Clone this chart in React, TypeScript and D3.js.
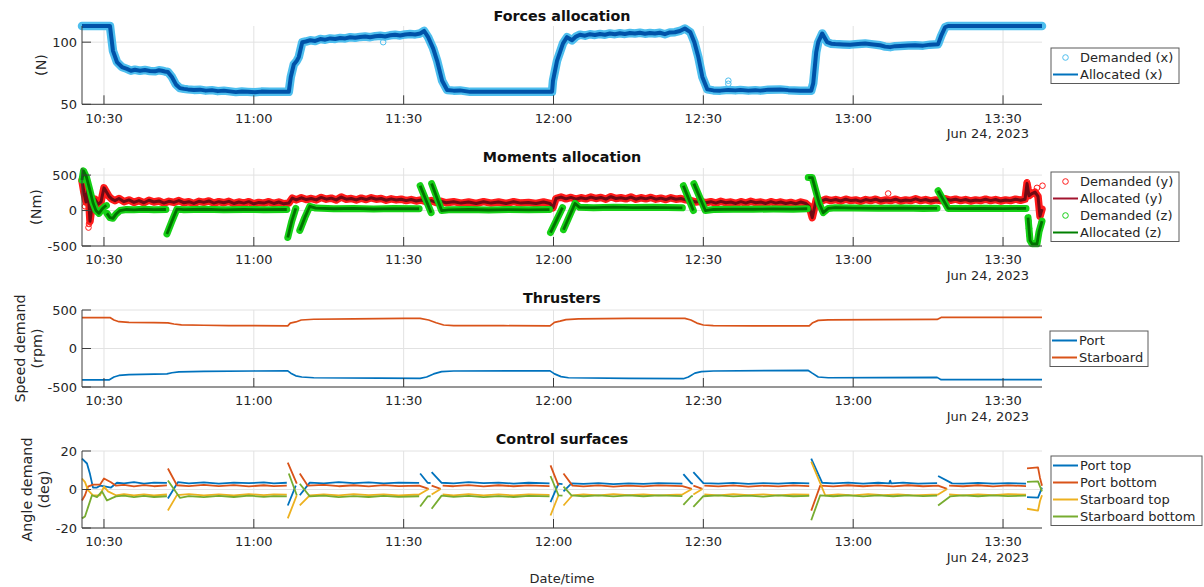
import React from "react";
import * as d3 from "d3";

type Pt = [number, number] | null;

// ---------- axis / label data ----------
const xTickMinutes = [30, 60, 90, 120, 150, 180, 210]; // minutes after 10:00
const xStartMin = 25.6;
const xEndMin = 217.8;
const dateText = "Jun 24, 2023";
const xLabelText = "Date/time";

const forceTicks = [50, 100];
const momentTicks = [-500, 0, 500];
const thrusterTicks = [-500, 0, 500];
const surfaceTicks = [-20, 0, 20];

// ---------- Forces allocation (N) ----------
const forceX: Pt[] = [
  [25.6, 113], [31.2, 113], [31.8, 93], [32.6, 84], [33.6, 80], [34.6, 78.5], [35.4, 77], [36.2, 77.8], [37.2, 77], [38.2, 77.6],
  [39.2, 76.8], [40.2, 76.5], [41.0, 77.4], [41.6, 77], [42.2, 76.4], [42.8, 76], [43.6, 72], [44.4, 66], [45.2, 63], [46.0, 62.4],
  [46.8, 62], [48, 61.6], [49.2, 61.8], [50.4, 61], [51.6, 61.4], [52.8, 60.6], [54, 61], [55.2, 60.4], [56.4, 59.8], [57.6, 60.3],
  [58.8, 60], [60.2, 59.7], [61.5, 60.2], [63.2, 60], [67.0, 60], [67.4, 72], [68.0, 82], [68.6, 85], [69.0, 88], [69.7, 100],
  [70.4, 100.5], [71.3, 101.5], [72.3, 101], [73.3, 102.5], [74.3, 102], [75.3, 103], [76.3, 102.6], [77.3, 103.4], [78.3, 103],
  [79.3, 104], [80.3, 103.5], [81.3, 104.2], [82.3, 104.6], [83.3, 104], [84.3, 104.8], [85.3, 105.2], [86.3, 104.6], [87.3, 105.5],
  [88.3, 106], [89.3, 105.4], [90.3, 106.2], [91.3, 106.6], [92.3, 106.2], [93.3, 107], [94.1, 109], [94.9, 104], [95.9, 95],
  [96.7, 85], [97.7, 69], [98.7, 61.5], [100, 61], [101.3, 61.2], [103.3, 60], [119.7, 60], [119.9, 69], [120.7, 85], [121.3, 92],
  [121.9, 99], [122.7, 104], [123.7, 101.5], [124.5, 104.5], [125.3, 106], [126.3, 105.2], [127.3, 106.4], [128.3, 105.8],
  [129.3, 106.6], [130.3, 106], [131.3, 107], [132.3, 106.4], [133.3, 107.2], [134.3, 106.6], [135.3, 107.4], [136.3, 107],
  [137.3, 107.6], [138.3, 106.8], [139.3, 107.4], [140.3, 107], [141.3, 107.6], [142.3, 106.4], [143.3, 107.8], [144.3, 108],
  [145.3, 109], [146.3, 111], [147.4, 108], [148.2, 100], [149.0, 88], [149.8, 72], [150.8, 62], [152, 61.2], [153.4, 61],
  [155, 61.6], [156.4, 61.2], [157.4, 61.6], [159, 61], [160.4, 61.4], [161.4, 61], [163, 61.8], [165.4, 62], [167, 61.4],
  [169.4, 61], [171.6, 61], [172.0, 67], [172.6, 92], [173.0, 100], [173.8, 107], [174.8, 100], [175.6, 98.8], [176.4, 98.5],
  [178, 98.2], [179.4, 98], [181, 98.6], [182.4, 99], [184, 98.2], [185.4, 97.5], [186.4, 96.4], [187.4, 96], [188.4, 96.8],
  [189.4, 97], [191, 97.4], [192.4, 97.6], [194, 97.2], [195.4, 98], [197, 98.4], [197.6, 105], [198.4, 112], [199, 113], [217.8, 113],
];
const forceDemandedOutliers: Pt[] = [[155, 69], [155, 66.5], [85.9, 100]];

// ---------- Moments allocation (Nm) ----------
const momentY: Pt[] = [
  [25.6, 420], [26.0, 250], [26.4, 120], [26.8, 330], [27.2, -150], [27.6, 60], [28.2, 160], [28.8, 90], [29.4, 120], [30.0, 320],
  [30.5, 260], [31.0, 200], [31.6, 160], [32.2, 140], [33, 170], [34, 125], [35, 150], [36, 115], [37, 140], [38, 110], [39, 145],
  [40, 120], [41, 135], [42, 105], [43, 130], [44, 115], [45, 140], [46, 110], [47, 125], [48, 100], [49, 130], [50, 115], [51, 135],
  [52, 105], [53, 125], [54, 110], [55, 130], [56, 100], [57, 120], [58, 105], [59, 125], [60, 95], [61, 115], [62, 105], [63, 125],
  [64, 100], [65, 120], [66, 95], [67, 105], [67.7, 175], [68.5, 150], [69.5, 180], [70.5, 155], [71.5, 170], [72.5, 150],
  [73.5, 185], [74.5, 160], [75.5, 175], [76.5, 150], [77.5, 190], [78.5, 160], [79.5, 170], [80.5, 150], [81.5, 175], [82.5, 155],
  [83.5, 180], [84.5, 160], [85.5, 170], [86.5, 145], [87.5, 165], [88.5, 150], [89.5, 160], [90.5, 140], [91.5, 155], [92.5, 135],
  [93.5, 150], [94.5, 125], [95.5, 140], [96.5, 115], [97.5, 130], [98.5, 110], [100, 125], [101.5, 105], [103, 120], [104.5, 100],
  [106, 125], [107.5, 105], [109, 120], [110.5, 100], [112, 125], [113.5, 105], [115, 115], [116.5, 100], [118, 120], [119.3, 100],
  [119.9, 40], [120.5, 170], [121.5, 190], [122.5, 165], [123.5, 185], [124.5, 160], [125.5, 180], [126.5, 165], [127.5, 190],
  [128.5, 170], [129.5, 185], [130.5, 160], [131.5, 195], [132.5, 170], [133.5, 180], [134.5, 165], [135.5, 190], [136.5, 160],
  [137.5, 180], [138.5, 165], [139.5, 185], [140.5, 160], [141.5, 175], [142.5, 155], [143.5, 180], [144.5, 160], [145.5, 170],
  [146.5, 150], [147.5, 140], [148.5, 120], [149.5, 130], [150.5, 110], [151.5, 125], [152.5, 105], [153.5, 130], [154.5, 110],
  [155.5, 120], [156.5, 100], [157.5, 125], [158.5, 105], [159.5, 130], [160.5, 110], [161.5, 120], [162.5, 100], [163.5, 125],
  [164.5, 105], [165.5, 120], [166.5, 100], [167.5, 115], [168.5, 95], [169.5, 120], [170.5, 100], [171.2, 60], [171.8, -100],
  [172.6, 150], [173.5, 130], [174.5, 160], [175.5, 140], [176.5, 155], [177.5, 135], [178.5, 160], [179.5, 140], [180.5, 150],
  [181.5, 130], [182.5, 155], [183.5, 140], [184.5, 160], [185.5, 135], [186.5, 150], [187.5, 140], [188.5, 160], [189.5, 135],
  [190.5, 150], [191.5, 140], [192.5, 165], [193.5, 140], [194.5, 155], [195.5, 135], [196.5, 150], [197.5, 140], [198.5, 165],
  [199.5, 145], [200.5, 160], [201.5, 140], [202.5, 155], [203.5, 135], [204.5, 150], [205.5, 140], [206.5, 160], [207.5, 140],
  [208.5, 155], [209.5, 135], [210.5, 150], [211.5, 140], [212.5, 160], [213.5, 145], [214.4, 160], [214.8, 380], [215.2, 210],
  [215.8, 240], [216.4, 260], [217.0, 200], [217.4, -80], [217.8, 20],
];
const momentYDemandedOutliers: Pt[] = [
  [26.2, 60], [26.9, -240], [27.0, -190], [187.0, 240], [214.8, 400], [215.0, 330], [216.8, 320], [217.9, 350], [217.7, -170],
];
const momentZ: Pt[] = [
  [25.6, 430], [25.9, 560], [26.5, 470], [27.2, 280], [27.8, 110], [28.4, 0], [29.0, -40], [29.6, 20], [30.2, 60], [30.5, 70], null,
  [30.6, -40], [31.2, -100], [31.8, -110], [32.4, -50], [33.2, 0], [34.5, 15], [36, 10], [38, 18], [40, 12], [42.4, 15], null,
  [42.6, -330], [43.6, -150], [44.6, 20], [46, 12], [50, 18], [54, 10], [58, 15], [62, 12], [66.6, 15], null,
  [66.8, -380], [67.6, -150], [68.4, 30], null,
  [69.2, -280], [70.2, -100], [71.2, 60], [72.4, 35], [76, 25], [80, 30], [84, 22], [88, 28], [93.1, 25], null,
  [93.3, 350], [95.5, -30], null,
  [95.6, 380], [97.6, 0], [99, 10], [103, 15], [107, 8], [111, 14], [115, 10], [119.2, 14], null,
  [119.4, -310], [121.8, 40], null,
  [122.0, -270], [124.3, 100], [125.2, 45], [128, 40], [132, 48], [136, 42], [140, 45], [145.8, 38], null,
  [146.0, 350], [148.0, 0], null,
  [148.1, 380], [150.4, 0], [152, 15], [156, 20], [160, 18], [164, 22], [168, 20], [170.8, 25], null,
  [171.0, 465], [171.8, 465], [173.2, 100], [174.0, -30], [175.0, 30], [176.4, 40], [180, 35], [185, 32], [190, 35], [194, 30], [196.8, 32], null,
  [197.0, 280], [199.0, 30], [202, 28], [206, 32], [210, 28], [214.6, 30], null,
  [215.0, -100], [215.4, -420], [215.8, -470], [216.8, -470], [217.2, -300], [217.8, -150],
];
const momentZDemandedOutliers: Pt[] = [[215.1, -150], [215.2, -250], [215.3, -350]];

// ---------- Thrusters (rpm) ----------
const thrusterStarboard: Pt[] = [
  [25.6, 402], [31.2, 402], [32.0, 370], [33.0, 348], [35, 340], [40, 335], [42.8, 332], [44, 318], [45.5, 308], [50, 302],
  [55, 298], [60, 296], [66.8, 294], [67.3, 330], [68.4, 345], [69.5, 370], [72, 380], [80, 385], [90, 390], [93.3, 392],
  [95, 370], [96.5, 335], [98, 305], [100, 298], [110, 296], [119.3, 294], [120.2, 340], [121.3, 355], [122.5, 375], [125, 385],
  [135, 390], [145, 392], [146.3, 392], [147.5, 370], [148.7, 330], [150, 305], [152, 298], [160, 295], [171.2, 294],
  [171.8, 330], [173, 365], [175, 372], [185, 375], [196.8, 377], [197.6, 403], [217.8, 405],
];
const thrusterPort: Pt[] = [
  [25.6, -408], [31.0, -408], [32.0, -370], [33.0, -350], [35, -340], [42.6, -330], [43.6, -315], [45, -303], [50, -298],
  [60, -292], [66.8, -290], [67.4, -320], [68.4, -355], [69.6, -370], [72, -380], [85, -385], [93.3, -388], [94.6, -370],
  [96, -330], [97.6, -300], [100, -292], [119.3, -290], [120.2, -330], [121.5, -365], [123, -380], [135, -388], [146, -392],
  [147, -370], [148.3, -320], [149.6, -300], [152, -292], [171, -285], [171.8, -320], [173, -370], [175, -380], [185, -378],
  [196.8, -375], [197.6, -405], [217.8, -405],
];

// ---------- Control surfaces (deg) ----------
const portTop: Pt[] = [
  [25.6, 16], [26.6, 13.5], [27.2, 8], [27.8, 1], [28.6, 1], [29.2, 2], [30.4, 1.5], [31.4, 1], [32.6, 3.5], [34, 3.2], [36, 3.8], [38, 3.1], [40, 3.6], [42.6, 3.4], null,
  [42.8, -4.7], [44.8, 3.8], [47, 3.2], [50, 3.7], [53, 3.1], [56, 3.6], [59, 3.3], [62, 3.7], [64, 3.2], [66.6, 3.5], null,
  [66.8, -8.3], [68.4, 2], null,
  [69.2, -3], [71.2, 3.6], [74, 3.2], [77, 3.8], [80, 3.3], [83, 3.7], [86, 3.2], [89, 3.6], [93.1, 3.4], null,
  [93.3, 8.3], [94.8, 3.5], [95.4, 3.3], null,
  [95.6, 9], [97.6, 3.5], [100, 3.2], [103, 3.8], [106, 3.3], [109, 3.6], [112, 3.1], [115, 3.5], [119.2, 3.2], null,
  [119.4, -6.6], [121.0, 3], [121.8, 2.8], null,
  [122.0, -1], [123.6, 3.2], [126, 2.9], [129, 3.3], [132, 2.8], [135, 3.2], [138, 2.9], [141, 3.3], [145.8, 3], null,
  [146.0, 8], [147.6, 3.2], [147.9, 3], null,
  [148.0, 9], [150.0, 3.3], [153, 3], [156, 3.4], [159, 2.9], [162, 3.3], [165, 3], [168, 3.4], [171.2, 3.2], null,
  [171.6, 16], [173.8, 3.5], [176, 3.2], [179, 3.6], [182, 3.1], [185, 3.5], [187.2, 3.2], [187.4, 4.6], [187.6, 3.2], [190, 3.6], [193, 3.1], [196.8, 3.3], null,
  [197.0, 7], [199.8, 3.2], [202, 3], [205, 3.4], [208, 3], [211, 3.3], [214.6, 3.1], null,
  [214.8, -4], [217.0, -4.2], [217.8, 1],
];
const portBottom: Pt[] = [
  [25.6, -5.7], [26.2, -3], [26.8, 1.5], [27.8, 2.5], [29.2, 2.5], [30.0, 5.7], [31.4, 3.8], [32.4, 2], [34, 2.4], [36, 1.6], [38, 2.3], [40, 1.7], [42.6, 2.1], null,
  [42.8, 10.9], [44.6, 2.2], [47, 1.7], [50, 2.4], [53, 1.8], [56, 2.3], [59, 1.6], [62, 2.2], [64, 1.8], [66.6, 2], null,
  [66.8, 14], [68.6, 3], null,
  [69.2, 8.3], [70.8, 2], [74, 2.4], [77, 1.7], [80, 2.2], [83, 1.6], [86, 2.3], [89, 1.8], [93.1, 2], [95.0, 0.3], null,
  [95.6, 2], [97.4, 0.3], null,
  [97.8, 2], [100, 1.7], [103, 2.3], [106, 1.6], [109, 2.2], [112, 1.7], [115, 2.1], [119.2, 1.8], null,
  [119.4, 12.5], [121.0, 2], null,
  [122.0, 8.3], [123.8, 2], [126, 1.6], [129, 2.1], [132, 1.5], [135, 2], [138, 1.6], [141, 2.1], [145.8, 1.8], [147.7, 0.3], null,
  [148.0, 2], [149.8, 0.3], null,
  [150.2, 2], [153, 1.6], [156, 2.1], [159, 1.5], [162, 2], [165, 1.6], [168, 2.1], [171.2, 1.8], null,
  [171.6, -11], [173.4, 2], [176, 1.6], [179, 2.2], [182, 1.7], [185, 2.1], [188, 1.6], [191, 2.2], [194, 1.7], [197, 2], [198.8, 0.3], null,
  [199.2, 2], [202, 1.7], [205, 2.2], [208, 1.6], [211, 2.1], [214.6, 1.8], null,
  [214.8, 11], [217.0, 11.5], [217.4, 6], [217.8, 2],
];
const starboardTop: Pt[] = [
  [25.6, 5.7], [26.2, 3.8], [26.8, -0.3], [27.8, -3], [29.2, -3], [30.0, 1.5], [30.8, -1], [32.4, -3], [34, -2.4], [36, -3.1], [38, -2.5], [40, -3], [42.6, -2.6], null,
  [42.8, -10.9], [44.6, -2.9], [47, -2.4], [50, -3], [53, -2.5], [56, -3.1], [59, -2.4], [62, -2.9], [64, -2.5], [66.6, -2.7], null,
  [66.8, -15], [68.6, -3], null,
  [69.2, -8.3], [71.2, -3], [74, -2.5], [77, -3.1], [80, -2.4], [83, -2.9], [86, -2.5], [89, -3], [93.1, -2.6], [95.0, 0.3], null,
  [95.6, -2.6], [97.4, 0.3], null,
  [97.8, -2.6], [100, -3], [103, -2.4], [106, -3], [109, -2.5], [112, -3.1], [115, -2.5], [119.2, -2.8], null,
  [119.4, -13.5], [121.0, -3], null,
  [122.0, -8.3], [123.8, -3], [126, -2.5], [129, -3], [132, -2.4], [135, -2.9], [138, -2.5], [141, -3], [145.8, -2.6], [147.7, 0.3], null,
  [148.0, -2.6], [149.8, 0.3], null,
  [150.2, -2.6], [153, -3], [156, -2.4], [159, -2.9], [162, -2.5], [165, -3], [168, -2.5], [171.2, -2.7], null,
  [171.6, 14.5], [174.4, -3], [177, -2.5], [180, -3], [183, -2.4], [186, -2.9], [189, -2.5], [192, -3], [197, -2.6], [198.8, 0.3], null,
  [199.2, -2.6], [202, -3], [205, -2.5], [208, -2.9], [211, -2.4], [214.6, -2.7], null,
  [214.8, -10], [217.0, -11], [217.4, -6], [217.8, -3],
];
const starboardBottom: Pt[] = [
  [25.6, -15], [26.2, -14], [26.8, -9.3], [27.6, -3], [28.6, -4], [29.6, -1], [30.6, -5.7], [31.6, -4.5], [32.4, -3.6], [34, -3.2], [36, -4], [38, -3.3], [40, -3.9], [42.6, -3.5], null,
  [42.8, 4.7], [45.2, -4.3], [47, -3.4], [50, -4], [53, -3.3], [56, -3.9], [59, -3.2], [62, -3.8], [64, -3.4], [66.6, -3.6], null,
  [67.0, 8.3], [68.6, -3], null,
  [69.2, 3], [71.2, -3.6], [74, -3.2], [77, -4], [80, -3.4], [83, -3.9], [86, -3.3], [89, -3.8], [93.1, -3.5], null,
  [93.3, -8.8], [94.8, -3.6], [95.4, -3.5], null,
  [95.6, -10], [97.6, -3.2], [100, -3.8], [103, -3.3], [106, -4], [109, -3.4], [112, -3.9], [115, -3.3], [119.2, -3.6], null,
  [119.4, 7], [121.0, -3], [121.8, -3.2], null,
  [122.0, 1.5], [123.6, -3], [126, -3.5], [129, -3], [132, -3.6], [135, -3.1], [138, -3.5], [141, -3], [145.8, -3.4], null,
  [146.0, -8], [147.6, -3.5], [147.9, -3.4], null,
  [148.0, -9], [150.0, -3.5], [153, -3.1], [156, -3.6], [159, -3.2], [162, -3.7], [165, -3.1], [168, -3.5], [171.2, -3.3], null,
  [171.6, -16], [173.4, -3], [176, -3.5], [179, -3], [182, -3.6], [185, -3.1], [188, -3.5], [191, -3], [194, -3.4], [196.8, -3.2], null,
  [197.0, -8.3], [199.4, -3.6], [202, -3.1], [205, -3.5], [208, -3], [211, -3.4], [214.6, -3.2], null,
  [214.8, 4], [217.0, 4.2], [217.8, -1],
];

// ---------- layout ----------
const FONT = "DejaVu Sans, Verdana, sans-serif";
const PL = 82;
const PR = 1042;
const CX = (PL + PR) / 2;
const TXT = "#262626";
const GRID = "#e2e2e2";

const base = new Date(2023, 5, 24, 10, 0, 0).getTime();
const toDate = (m: number) => new Date(base + m * 60000);
const x = d3.scaleTime().domain([toDate(xStartMin), toDate(xEndMin)]).range([PL, PR]);
const fmt = d3.timeFormat("%H:%M");

function pathOf(data: Pt[], y: d3.ScaleLinear<number, number>) {
  return (
    d3
      .line<Pt>()
      .defined((d) => d !== null)
      .x((d) => x(toDate((d as [number, number])[0])))
      .y((d) => y((d as [number, number])[1]))(data) || ""
  );
}

type LegendItem = { kind: "marker" | "line"; color: string; label: string };

function Legend({ x0, y0, w, items }: { x0: number; y0: number; w: number; items: LegendItem[] }) {
  const rowH = 17;
  const h = items.length * rowH + 1.5;
  return (
    <g>
      <rect x={x0} y={y0} width={w} height={h} fill="white" stroke="#5a5a5a" strokeWidth={1} />
      {items.map((it, i) => {
        const cy = y0 + 9.5 + i * rowH;
        return (
          <g key={i}>
            {it.kind === "line" ? (
              <line x1={x0 + 2} x2={x0 + 27} y1={cy} y2={cy} stroke={it.color} strokeWidth={2} />
            ) : (
              <circle cx={x0 + 14.5} cy={cy} r={2.8} fill="none" stroke={it.color} strokeWidth={1} />
            )}
            <text x={x0 + 29} y={cy} dominantBaseline="central" fontSize={13} fill={TXT} fontFamily={FONT}>
              {it.label}
            </text>
          </g>
        );
      })}
    </g>
  );
}

function Frame({
  top,
  bottom,
  y,
  ticks,
  title,
  titleY,
}: {
  top: number;
  bottom: number;
  y: d3.ScaleLinear<number, number>;
  ticks: number[];
  title: string;
  titleY: number;
}) {
  return (
    <g>
      {xTickMinutes.map((m) => (
        <line key={"vg" + m} x1={x(toDate(m))} x2={x(toDate(m))} y1={top} y2={bottom} stroke={GRID} strokeWidth={1} />
      ))}
      {ticks.map((t) => (
        <line key={"hg" + t} x1={PL} x2={PR} y1={y(t)} y2={y(t)} stroke={GRID} strokeWidth={1} />
      ))}
      <text x={CX} y={titleY} textAnchor="middle" fontSize={14.3} fontWeight="bold" fill="#111" fontFamily={FONT}>
        {title}
      </text>
    </g>
  );
}

function Axes({
  top,
  bottom,
  y,
  ticks,
}: {
  top: number;
  bottom: number;
  y: d3.ScaleLinear<number, number>;
  ticks: number[];
}) {
  return (
    <g>
      <line x1={PL} x2={PL} y1={top} y2={bottom} stroke="#3c3c3c" strokeWidth={1} />
      <line x1={PL} x2={PR} y1={bottom} y2={bottom} stroke="#3c3c3c" strokeWidth={1} />
      {xTickMinutes.map((m) => (
        <g key={"xt" + m}>
          <line x1={x(toDate(m))} x2={x(toDate(m))} y1={bottom} y2={bottom - 9} stroke="#3c3c3c" strokeWidth={1} />
          <text x={x(toDate(m))} y={bottom + 18.4} textAnchor="middle" fontSize={13} fill={TXT} fontFamily={FONT}>
            {fmt(toDate(m))}
          </text>
        </g>
      ))}
      {ticks.map((t) => (
        <g key={"yt" + t}>
          <line x1={PL} x2={PL + 9} y1={y(t)} y2={y(t)} stroke="#3c3c3c" strokeWidth={1} />
          <text x={77} y={y(t)} textAnchor="end" dominantBaseline="central" fontSize={13} fill={TXT} fontFamily={FONT}>
            {t}
          </text>
        </g>
      ))}
      <text x={1029} y={bottom + 33.5} textAnchor="end" fontSize={13} fill={TXT} fontFamily={FONT}>
        {dateText}
      </text>
    </g>
  );
}

function YLabel({ lines, xs, cy }: { lines: string[]; xs: number[]; cy: number }) {
  return (
    <g>
      {lines.map((l, i) => (
        <text
          key={i}
          transform={`translate(${xs[i]},${cy}) rotate(-90)`}
          textAnchor="middle"
          dominantBaseline="central"
          fontSize={14.3}
          fill={TXT}
          fontFamily={FONT}
        >
          {l}
        </text>
      ))}
    </g>
  );
}

function Circles({ data, y, color }: { data: Pt[]; y: d3.ScaleLinear<number, number>; color: string }) {
  return (
    <g>
      {data
        .filter((d) => d !== null)
        .map((d, i) => {
          const p = d as [number, number];
          return <circle key={i} cx={x(toDate(p[0]))} cy={y(p[1])} r={2.8} fill="none" stroke={color} strokeWidth={1} />;
        })}
    </g>
  );
}

export default function App() {
  const p1 = { top: 26, bottom: 104.3 };
  const p2 = { top: 168, bottom: 246 };
  const p3 = { top: 310, bottom: 387 };
  const p4 = { top: 451, bottom: 528 };

  const y1 = d3.scaleLinear().domain([50, 113]).range([p1.bottom, p1.top]);
  const y2 = d3.scaleLinear().domain([-500, 600]).range([p2.bottom, p2.top]);
  const y3 = d3.scaleLinear().domain([-500, 500]).range([p3.bottom, p3.top]);
  const y4 = d3.scaleLinear().domain([-20, 20]).range([p4.bottom, p4.top]);

  const cDemX = "#4DBEEE";
  const cAllX = "#0052a8";
  const cLegAllX = "#0072BD";
  const cDemY = "#ff1a1a";
  const cAllY = "#6e0a14";
  const cLegAllY = "#A2142F";
  const cDemZ = "#16d016";
  const cAllZ = "#007000";
  const cBlue = "#0072BD";
  const cOrange = "#D95319";
  const cYellow = "#EDB120";
  const cGreen = "#77AC30";

  const halo = (d: Pt[], y: d3.ScaleLinear<number, number>, c: string, w: number) => (
    <path d={pathOf(d, y)} fill="none" stroke={c} strokeWidth={w} strokeLinejoin="round" strokeLinecap="round" />
  );
  const line = (d: Pt[], y: d3.ScaleLinear<number, number>, c: string, w: number) => (
    <path d={pathOf(d, y)} fill="none" stroke={c} strokeWidth={w} strokeLinejoin="round" />
  );

  return (
    <svg
      width={1204}
      height={587}
      style={{ position: "absolute", left: 0, top: 0, background: "white" }}
      fontFamily={FONT}
    >
      <rect x={0} y={0} width={1204} height={587} fill="white" />

      {/* Panel 1 */}
      <Frame top={p1.top} bottom={p1.bottom} y={y1} ticks={forceTicks} title="Forces allocation" titleY={20.7} />
      {halo(forceX, y1, cDemX, 8.5)}
      <Circles data={forceX} y={y1} color={cDemX} />
      <Circles data={forceDemandedOutliers} y={y1} color={cDemX} />
      {line(forceX, y1, cAllX, 4)}
      <Axes top={p1.top} bottom={p1.bottom} y={y1} ticks={forceTicks} />
      <YLabel lines={["(N)"]} xs={[41]} cy={65} />
      <Legend
        x0={1051}
        y0={48}
        w={128}
        items={[
          { kind: "marker", color: cDemX, label: "Demanded (x)" },
          { kind: "line", color: cLegAllX, label: "Allocated (x)" },
        ]}
      />

      {/* Panel 2 */}
      <Frame top={p2.top} bottom={p2.bottom} y={y2} ticks={momentTicks} title="Moments allocation" titleY={161.7} />
      {halo(momentY, y2, cDemY, 7.5)}
      <Circles data={momentYDemandedOutliers} y={y2} color={cDemY} />
      {line(momentY, y2, cAllY, 3)}
      {halo(momentZ, y2, cDemZ, 7)}
      <Circles data={momentZDemandedOutliers} y={y2} color={cDemZ} />
      {line(momentZ, y2, cAllZ, 2.8)}
      <Axes top={p2.top} bottom={p2.bottom} y={y2} ticks={momentTicks} />
      <YLabel lines={["(Nm)"]} xs={[36]} cy={207} />
      <Legend
        x0={1051}
        y0={172}
        w={128}
        items={[
          { kind: "marker", color: cDemY, label: "Demanded (y)" },
          { kind: "line", color: cLegAllY, label: "Allocated (y)" },
          { kind: "marker", color: cDemZ, label: "Demanded (z)" },
          { kind: "line", color: "#008000", label: "Allocated (z)" },
        ]}
      />

      {/* Panel 3 */}
      <Frame top={p3.top} bottom={p3.bottom} y={y3} ticks={thrusterTicks} title="Thrusters" titleY={303} />
      {line(thrusterPort, y3, cBlue, 1.7)}
      {line(thrusterStarboard, y3, cOrange, 1.7)}
      <Axes top={p3.top} bottom={p3.bottom} y={y3} ticks={thrusterTicks} />
      <YLabel lines={["Speed demand", "(rpm)"]} xs={[20, 36.5]} cy={348.5} />
      <Legend
        x0={1050}
        y0={331}
        w={98}
        items={[
          { kind: "line", color: cBlue, label: "Port" },
          { kind: "line", color: cOrange, label: "Starboard" },
        ]}
      />

      {/* Panel 4 */}
      <Frame top={p4.top} bottom={p4.bottom} y={y4} ticks={surfaceTicks} title="Control surfaces" titleY={444} />
      {line(portTop, y4, cBlue, 1.8)}
      {line(portBottom, y4, cOrange, 1.8)}
      {line(starboardTop, y4, cYellow, 1.8)}
      {line(starboardBottom, y4, cGreen, 1.8)}
      <Axes top={p4.top} bottom={p4.bottom} y={y4} ticks={surfaceTicks} />
      <YLabel lines={["Angle demand", "(deg)"]} xs={[27, 44]} cy={489.5} />
      <Legend
        x0={1051}
        y0={456}
        w={151}
        items={[
          { kind: "line", color: cBlue, label: "Port top" },
          { kind: "line", color: cOrange, label: "Port bottom" },
          { kind: "line", color: cYellow, label: "Starboard top" },
          { kind: "line", color: cGreen, label: "Starboard bottom" },
        ]}
      />

      <text x={CX} y={583} textAnchor="middle" fontSize={13} fill={TXT} fontFamily={FONT}>
        {xLabelText}
      </text>
    </svg>
  );
}
